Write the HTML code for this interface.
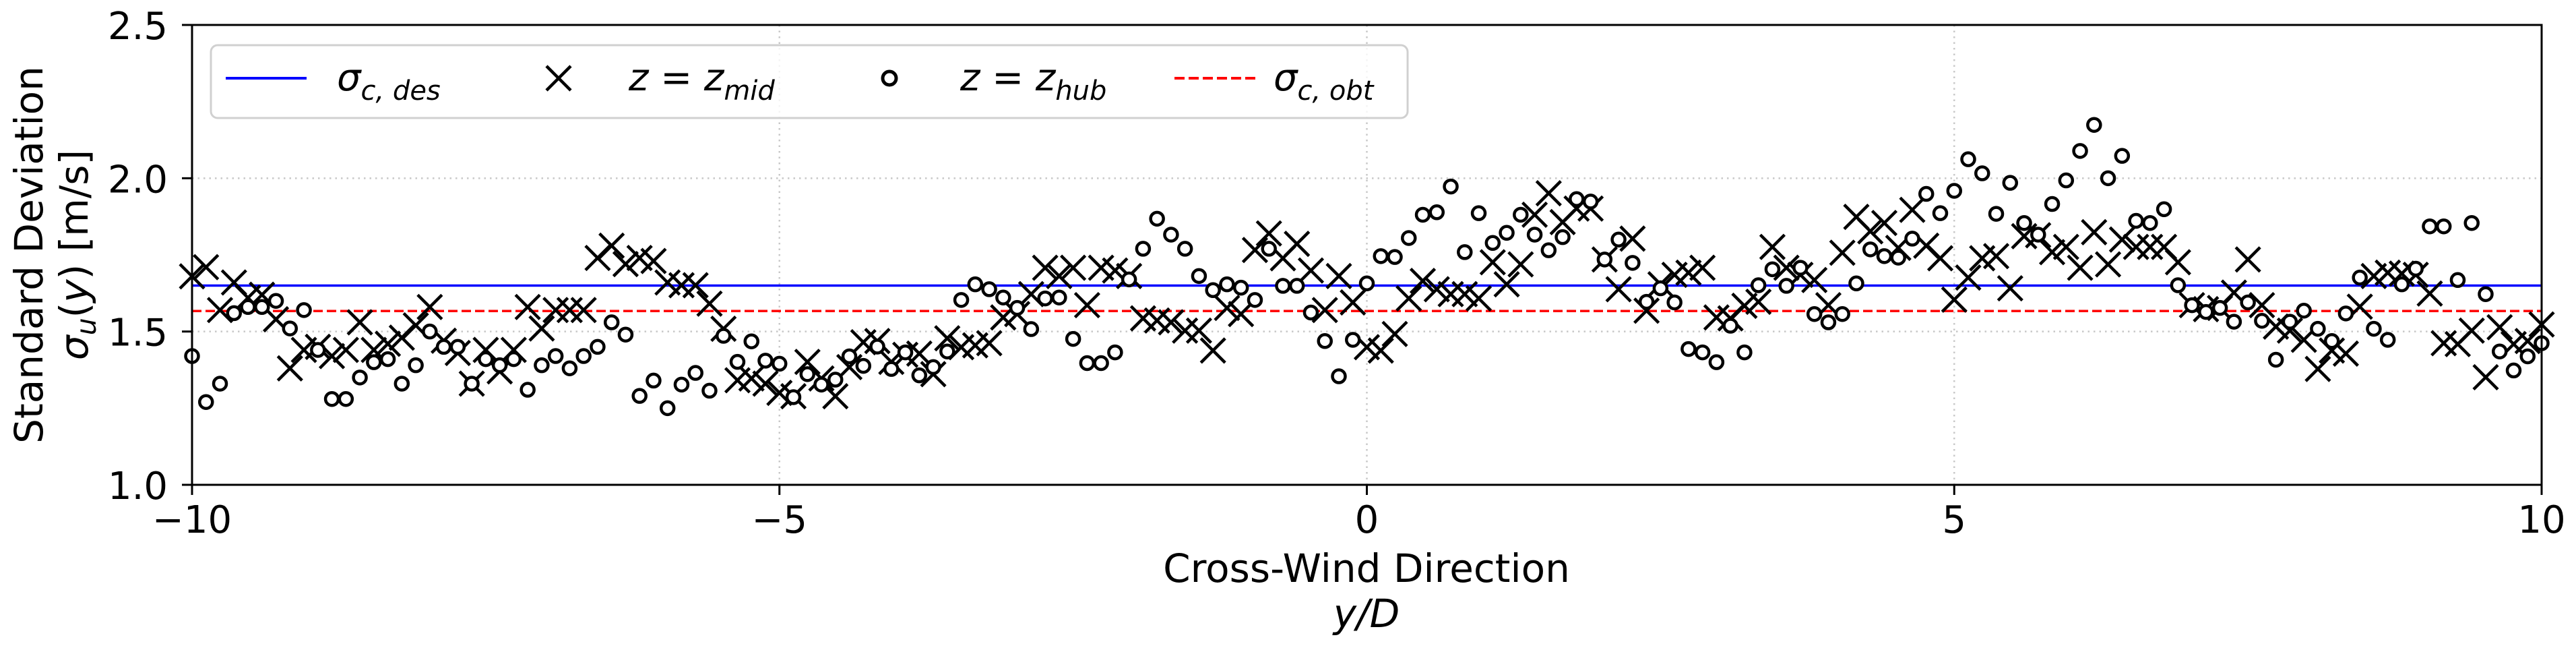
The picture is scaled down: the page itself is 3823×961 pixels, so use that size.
<!DOCTYPE html>
<html><head><meta charset="utf-8"><style>
html,body{margin:0;padding:0;background:#fff;}
svg{display:block;font-family:"DejaVu Sans","Liberation Sans",sans-serif;}
</style></head><body>
<svg id="chart" width="3823" height="961" viewBox="0 0 3823 961" xmlns="http://www.w3.org/2000/svg">
<rect x="285" y="37" width="3487" height="682" fill="#fff"/>
<g id="grid"></g>
<g id="lines"></g>
<g id="marks"></g>
<rect x="285" y="37" width="3487" height="682" fill="none" stroke="#000" stroke-width="3"/>
<g id="ticks"></g>
<g>
<rect x="313" y="67" width="1776" height="108" rx="10" fill="#fff" fill-opacity="0.8" stroke="#d0d0d0" stroke-width="3"/>
<line x1="335" y1="116" x2="455" y2="116" stroke="#0000ff" stroke-width="4"/>
<text x="500" y="134" font-size="56" font-style="italic">σ<tspan font-size="40" dy="14">c, des</tspan></text>
<g stroke="#000" stroke-width="4.5"><line x1="811" y1="98" x2="847" y2="134"/><line x1="811" y1="134" x2="847" y2="98"/></g>
<text x="933" y="134" font-size="56" font-style="italic">z = z<tspan font-size="40" dy="14">mid</tspan></text>
<circle cx="1320" cy="116" r="10" fill="#fff" stroke="#000" stroke-width="5"/>
<text x="1425" y="134" font-size="56" font-style="italic">z = z<tspan font-size="40" dy="14">hub</tspan></text>
<line x1="1743" y1="116" x2="1863" y2="116" stroke="#ff0000" stroke-width="4" stroke-dasharray="15,6"/>
<text x="1890" y="134" font-size="56" font-style="italic">σ<tspan font-size="40" dy="14">c, obt</tspan></text>
</g>
<text x="2028" y="863" font-size="58" text-anchor="middle">Cross-Wind Direction</text>
<text x="2028" y="930" font-size="58" text-anchor="middle" font-style="italic">y/D</text>
<text transform="translate(63,378) rotate(-90)" font-size="58" text-anchor="middle">Standard Deviation</text>
<text transform="translate(130,378) rotate(-90)" font-size="58" text-anchor="middle"><tspan font-style="italic">σ</tspan><tspan font-style="italic" font-size="41" dy="12">u</tspan><tspan dy="-12">(</tspan><tspan font-style="italic">y</tspan>) [m/s]</text>
</svg>
<script>
const xTicks=[-10,-5,0,5,10];
const xTickLabels=["\u221210","\u22125","0","5","10"];
const yTicks=[1.0,1.5,2.0,2.5];
const yTickLabels=["1.0","1.5","2.0","2.5"];
const sigmaDes=1.65;
const sigmaObt=1.567;
const nPoints=169;
const zMid=[1.68,1.71,1.57,1.66,1.61,1.62,1.54,1.38,1.44,1.45,1.42,1.44,1.53,1.44,1.46,1.48,1.52,1.58,1.47,1.43,1.33,1.44,1.37,1.44,1.58,1.51,1.57,1.57,1.57,1.74,1.78,1.72,1.74,1.73,1.66,
1.651,1.651,1.591,1.509,1.341,1.347,1.330,1.300,1.289,1.401,1.347,1.289,1.384,1.465,1.469,1.401,1.424,1.428,1.361,1.478,1.449,1.455,1.462,1.546,1.557,1.622,1.708,1.681,1.708,1.586,1.708,1.699,1.681,1.543,1.536,1.530,1.503,1.503,1.438,1.577,1.557,1.766,1.820,1.739,1.786,1.699,
1.570,1.681,1.595,1.449,1.438,1.492,1.608,1.665,1.638,1.622,1.622,1.608,1.726,1.654,1.719,1.881,1.951,1.857,1.901,1.901,1.735,1.638,1.803,1.568,1.654,1.685,1.692,1.708,1.546,1.543,1.584,1.597,1.776,1.708,1.685,1.668,1.586,1.757,1.874,1.827,1.854,1.773,1.897,1.780,1.739,1.604,
1.676,1.739,1.746,1.641,1.811,1.814,1.759,1.776,1.708,1.824,1.719,1.800,1.776,1.776,1.776,1.726,1.586,1.573,1.577,1.627,1.735,1.586,1.516,1.503,1.473,1.378,1.438,1.428,1.581,1.681,1.692,1.689,1.685,1.624,1.462,1.459,1.503,1.351,1.514,1.459,1.469,1.523];
const zHub=[1.42,1.27,1.33,1.56,1.58,1.58,1.60,1.51,1.57,1.44,1.28,1.28,1.35,1.40,1.41,1.33,1.39,1.50,1.45,1.45,1.33,1.41,1.39,1.41,1.31,1.39,1.42,1.38,1.42,1.45,1.53,1.49,1.29,1.34,1.25,
1.327,1.365,1.307,1.486,1.401,1.468,1.405,1.395,1.286,1.361,1.327,1.343,1.419,1.388,1.451,1.378,1.432,1.357,1.384,1.435,1.603,1.654,1.638,1.611,1.577,1.508,1.608,1.611,1.476,1.397,1.397,1.432,1.670,1.770,1.868,1.816,1.770,1.681,1.635,1.654,1.643,1.603,1.770,1.649,1.649,1.562,
1.469,1.354,1.473,1.657,1.746,1.743,1.805,1.881,1.889,1.973,1.759,1.886,1.789,1.822,1.881,1.816,1.765,1.808,1.932,1.924,1.735,1.800,1.724,1.597,1.641,1.595,1.443,1.432,1.400,1.519,1.432,1.651,1.703,1.649,1.708,1.557,1.530,1.557,1.657,1.768,1.746,1.741,1.803,1.949,1.886,1.959,
2.062,2.016,1.884,1.985,1.854,1.816,1.916,1.993,2.089,2.174,2.000,2.073,1.861,1.854,1.899,1.651,1.586,1.564,1.577,1.532,1.595,1.535,1.408,1.532,1.568,1.509,1.469,1.559,1.676,1.509,1.473,1.654,1.705,1.843,1.843,1.668,1.854,1.622,1.435,1.373,1.419,1.462];
const NS="http://www.w3.org/2000/svg";
const X0=285,X1=3772,Y0=719,Y1=37;
function xs(v){return X0+(v+10)/20*(X1-X0);}
function ys(v){return Y0-(v-1.0)/1.5*(Y0-Y1);}
function mk(tag,attrs,parent){const e=document.createElementNS(NS,tag);for(const k in attrs)e.setAttribute(k,attrs[k]);parent.appendChild(e);return e;}
const grid=document.getElementById('grid'),ticks=document.getElementById('ticks'),lines=document.getElementById('lines'),marks=document.getElementById('marks');
xTicks.forEach((t,i)=>{
  const g=mk('line',{x1:xs(t),x2:xs(t),y1:Y1,y2:Y0,stroke:'#c8c8c8','stroke-width':2.5,'stroke-dasharray':'2.5,6'},grid);
  
  
  const tk=mk('line',{x1:xs(t),x2:xs(t),y1:Y0,y2:Y0+15,stroke:'#000','stroke-width':3},ticks);
  
  
  const tl=mk('text',{x:xs(t),y:790,'font-size':56,'text-anchor':'middle'},ticks);
  tl.textContent=xTickLabels[i];
  
  
});
yTicks.forEach((t,i)=>{
  const g=mk('line',{x1:X0,x2:X1,y1:ys(t),y2:ys(t),stroke:'#c8c8c8','stroke-width':2.5,'stroke-dasharray':'2.5,6'},grid);
  
  
  const tk=mk('line',{x1:X0-15,x2:X0,y1:ys(t),y2:ys(t),stroke:'#000','stroke-width':3},ticks);
  
  
  const tl=mk('text',{x:249,y:ys(t)+21,'font-size':56,'text-anchor':'end'},ticks);
  tl.textContent=yTickLabels[i];
  
  
});
const ld=mk('line',{x1:X0,x2:X1,y1:ys(sigmaDes),y2:ys(sigmaDes),stroke:'#0000ff','stroke-width':3.5},lines);


const lo=mk('line',{x1:X0,x2:X1,y1:ys(sigmaObt),y2:ys(sigmaObt),stroke:'#ff0000','stroke-width':3.5,'stroke-dasharray':'14,6'},lines);


function xAt(i){return -10+20*i/(nPoints-1);}
zMid.forEach((v,i)=>{
  const cx=xs(xAt(i)),cy=ys(v),h=18;
  const g=mk('g',{stroke:'#000','stroke-width':4.5},marks);
  
  
  mk('line',{x1:cx-h,y1:cy-h,x2:cx+h,y2:cy+h},g);
  mk('line',{x1:cx-h,y1:cy+h,x2:cx+h,y2:cy-h},g);
});
zHub.forEach((v,i)=>{
  const c=mk('circle',{cx:xs(xAt(i)),cy:ys(v),r:9.5,fill:'#fff',stroke:'#000','stroke-width':4.5},marks);
  
  
});
</script>
</body></html>
